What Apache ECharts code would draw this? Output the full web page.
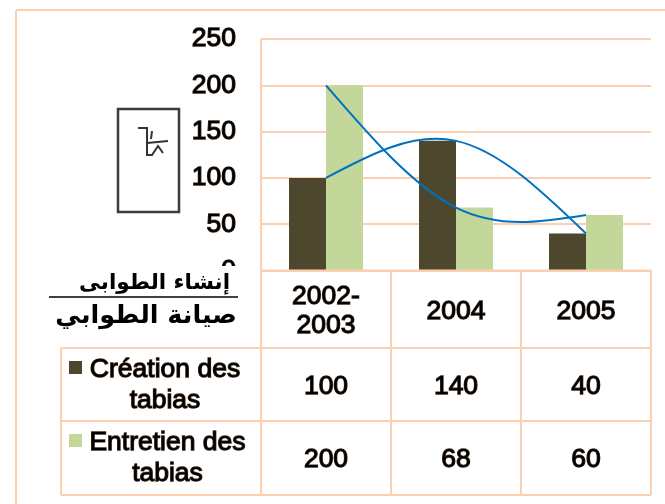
<!DOCTYPE html>
<html><head><meta charset="utf-8">
<style>html,body{margin:0;padding:0;background:#fff}#c{width:665px;height:504px}</style>
<script src="https://cdn.jsdelivr.net/npm/echarts@6/dist/echarts.min.js"></script>
</head><body><div id="c"></div>
<script>
const categories = ['2002-\n2003', '2004', '2005'];
const creation = [100, 140, 40];
const entretien = [200, 68, 60];
const creationName = 'Création des\ntabias';
const entretienName = 'Entretien des\ntabias';
const arabicCreation = 'إنشاء الطوابى';
const arabicEntretien = 'صيانة الطوابي';

const peach = '#FBD0B2', dark = '#4D472D', light = '#C4D79B', blue = '#0070C0';
const font = '"Liberation Sans", Arial, sans-serif';
const outline = '#3d2a1c';
const textStyle = {fontFamily: font, fontSize: 26.5, color: '#000', textBorderColor: outline, textBorderWidth: 1.3};
const colX = [326, 456, 586];

const hl = (x1, x2, y, c, w) => ({type: 'line', z: 20, shape: {x1, y1: y, x2, y2: y}, style: {stroke: c || peach, lineWidth: w || 2}});
const vl = (x, y1, y2) => ({type: 'line', z: 20, shape: {x1: x, y1, x2: x, y2}, style: {stroke: peach, lineWidth: 2}});
const txt = (x, y, text) => ({type: 'text', z: 30, x, y, style: {text, align: 'center', verticalAlign: 'middle', lineHeight: 31,
  fontFamily: font, fontSize: 26.5, fill: '#000', stroke: outline, lineWidth: 1.3}});
const glyph = pts => ({type: 'polyline', z: 21, shape: {points: pts}, style: {fill: 'none', stroke: '#333', lineWidth: 2}});

const graphics = [
  hl(16, 665, 10), vl(16, 10, 504),
  {type: 'rect', z: 15, shape: {x: 180, y: 266, width: 60, height: 34}, style: {fill: '#fff'}},
  vl(261, 39, 495), vl(391, 270, 495), vl(521, 270, 495), vl(651, 270, 495),
  hl(261, 651, 270.5), hl(61, 651, 348), hl(61, 651, 421), hl(61, 651, 495), vl(61, 348, 495),
  {type: 'rect', z: 20, shape: {x: 118, y: 109, width: 61, height: 103}, style: {fill: '#fff', stroke: '#3c3c3c', lineWidth: 2.5}},
  glyph([[138,128],[147,128],[147,155],[152,155],[158,146],[163,153]]),
  glyph([[147,143],[168,141]]),
  glyph([[152,131],[151,139]]),
  {type: 'text', z: 30, x: 230, y: 283, style: {text: arabicCreation, align: 'right', verticalAlign: 'middle', fontFamily: '"DejaVu Sans"', fontWeight: 'bold', fontSize: 21.5, fill: '#000'}},
  hl(49, 238, 297, '#000', 1.5),
  {type: 'text', z: 30, x: 237, y: 316, style: {text: arabicEntretien, align: 'right', verticalAlign: 'middle', fontFamily: '"DejaVu Sans"', fontWeight: 'bold', fontSize: 25.5, fill: '#000'}},
  {type: 'rect', z: 25, shape: {x: 69, y: 361, width: 13, height: 13}, style: {fill: dark}},
  {type: 'rect', z: 25, shape: {x: 69, y: 434, width: 13, height: 13}, style: {fill: light}},
  txt(165, 385, creationName), txt(167.5, 458, entretienName)
];
creation.forEach((v, i) => graphics.push(txt(colX[i], 387, String(v))));
entretien.forEach((v, i) => graphics.push(txt(colX[i], 460, String(v))));

// Natural cubic spline through the data, as the spreadsheet's smoothed line overshoots the points.
function splineSeries(name, values) {
  return {
    name, type: 'custom', z: 5, clip: false,
    data: values.map((v, i) => [i, v]),
    encode: {x: 0, y: 1},
    renderItem(params, api) {
      const i = params.dataIndex;
      if (i >= values.length - 1) return {type: 'group', children: []};
      const P = values.map((v, k) => api.coord([k, v]));
      const n = P.length - 1;
      const D = [[0, 0]];
      // Thomas solve per coordinate
      const solve = c => {
        const a = [], b = [];
        a[0] = 0.5; b[0] = 1.5 * (P[1][c] - P[0][c]);
        for (let k = 1; k < n; k++) {
          const m = 4 - a[k - 1];
          a[k] = 1 / m;
          b[k] = (3 * (P[k + 1][c] - P[k - 1][c]) - b[k - 1]) / m;
        }
        const d = [];
        d[n] = (3 * (P[n][c] - P[n - 1][c]) - b[n - 1]) / (2 - a[n - 1]);
        for (let k = n - 1; k >= 0; k--) d[k] = b[k] - a[k] * d[k + 1];
        return d;
      };
      const dx = solve(0), dy = solve(1);
      return {
        type: 'bezierCurve',
        shape: {
          x1: P[i][0], y1: P[i][1], x2: P[i + 1][0], y2: P[i + 1][1],
          cpx1: P[i][0] + dx[i] / 3, cpy1: P[i][1] + dy[i] / 3,
          cpx2: P[i + 1][0] - dx[i + 1] / 3, cpy2: P[i + 1][1] - dy[i + 1] / 3
        },
        style: {fill: 'none', stroke: blue, lineWidth: 2}
      };
    }
  };
}

const chart = echarts.init(document.getElementById('c'), null, {renderer: 'canvas'});
chart.setOption({
  animation: false,
  backgroundColor: '#fff',
  grid: {left: 261, right: 14, top: 39, bottom: 233.5},
  xAxis: {type: 'category', data: categories,
    axisLine: {show: false}, axisTick: {show: false},
    axisLabel: Object.assign({}, textStyle, {margin: 41, verticalAlign: 'middle', lineHeight: 29})},
  yAxis: {type: 'value', min: 0, max: 250, interval: 50,
    axisLine: {show: false}, axisTick: {show: false},
    splitLine: {lineStyle: {color: peach, width: 2}},
    axisLabel: Object.assign({}, textStyle, {margin: 25})},
  series: [
    {name: 'Création des tabias', type: 'bar', data: creation, barWidth: 37, barGap: 0, itemStyle: {color: dark}, z: 3},
    {name: 'Entretien des tabias', type: 'bar', data: entretien, barWidth: 37, barGap: 0, itemStyle: {color: light}, z: 3},
    splineSeries('Création (courbe)', creation),
    splineSeries('Entretien (courbe)', entretien)
  ],
  graphic: graphics
});
</script></body></html>
